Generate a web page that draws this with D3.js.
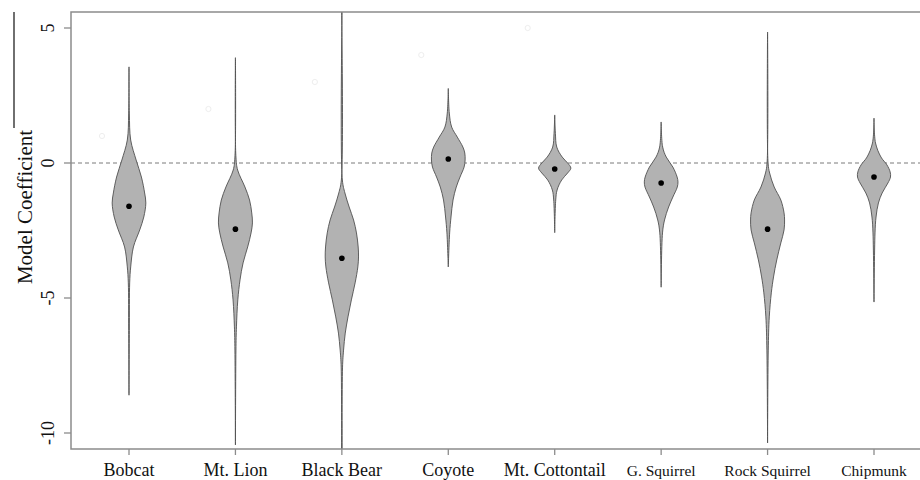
<!DOCTYPE html>
<html>
<head>
<meta charset="utf-8">
<script src="https://cdn.jsdelivr.net/npm/d3@7"></script>
<style>
  body { margin: 0; background: #fff; }
  svg { display: block; font-family: "Liberation Serif", "DejaVu Serif", serif; }
</style>
</head>
<body>
<div id="chart"></div>
<script>
// species on the x axis
const species = ['Bobcat', 'Mt. Lion', 'Black Bear', 'Coyote', 'Mt. Cottontail', 'G. Squirrel', 'Rock Squirrel', 'Chipmunk']
const smallLabels = ['G. Squirrel', 'Rock Squirrel', 'Chipmunk']

// median coefficient of each species (the black dots)
const medians = [-1.6, -2.45, -3.53, 0.15, -0.22, -0.74, -2.45, -0.52]

// violin outlines: [coefficient, relative density]
const bobcat = [[3.56, 0], [1.85, 0.02], [0.85, 0.1], [0.11, 0.42], [-0.52, 0.73], [-1.11, 0.92], [-1.48, 0.99], [-2.0, 0.87], [-2.48, 0.63], [-3.11, 0.26], [-3.85, 0.1], [-4.44, 0.04], [-6.2, 0.02], [-8.6, 0]]
const mtLion = [[3.9, 0], [0.22, 0.03], [-0.26, 0.13], [-0.89, 0.56], [-1.37, 0.83], [-1.85, 0.96], [-2.22, 1.0], [-2.59, 0.92], [-3.11, 0.72], [-3.7, 0.45], [-4.33, 0.27], [-5.07, 0.14], [-6.07, 0.06], [-6.93, 0.03], [-10.44, 0]]
const blackBear = [[6.0, 0.02], [-0.63, 0.03], [-1.11, 0.18], [-1.63, 0.43], [-2.11, 0.69], [-2.59, 0.86], [-3.11, 0.96], [-3.48, 0.98], [-3.85, 0.94], [-4.44, 0.78], [-5.07, 0.56], [-5.7, 0.36], [-6.3, 0.2], [-6.93, 0.1], [-7.56, 0.04], [-11.0, 0.02]]
const coyote = [[2.76, 0], [1.85, 0.06], [1.33, 0.2], [0.96, 0.53], [0.59, 0.86], [0.37, 0.97], [0.11, 0.99], [-0.15, 0.93], [-0.52, 0.69], [-0.89, 0.47], [-1.37, 0.28], [-2.0, 0.16], [-2.59, 0.08], [-3.85, 0]]
const cottontail = [[1.78, 0], [1.1, 0.04], [0.59, 0.12], [0.22, 0.44], [0, 0.76], [-0.19, 0.95], [-0.37, 0.76], [-0.63, 0.41], [-1.0, 0.14], [-1.37, 0.06], [-2.58, 0]]
const gSquirrel = [[1.52, 0], [0.59, 0.09], [0.22, 0.3], [-0.15, 0.69], [-0.52, 0.94], [-0.7, 0.99], [-0.89, 0.95], [-1.26, 0.69], [-1.63, 0.44], [-2.11, 0.2], [-2.59, 0.08], [-4.6, 0]]
const rockSquirrel = [[4.85, 0], [0, 0.03], [-0.37, 0.12], [-0.89, 0.39], [-1.37, 0.78], [-1.85, 0.97], [-2.11, 1.0], [-2.48, 0.97], [-2.96, 0.78], [-3.59, 0.54], [-4.22, 0.35], [-4.81, 0.22], [-5.7, 0.1], [-6.93, 0.04], [-10.37, 0]]
const chipmunk = [[1.66, 0], [0.74, 0.09], [0.22, 0.41], [-0.07, 0.76], [-0.33, 0.95], [-0.52, 0.97], [-0.74, 0.82], [-1.11, 0.48], [-1.48, 0.26], [-2.0, 0.12], [-2.59, 0.06], [-5.15, 0]]

const violins = [bobcat, mtLion, blackBear, coyote, cottontail, gSquirrel, rockSquirrel, chipmunk]

// y ticks and the faint leftover markers in the picture
const yTicks = [5, 0, -5, -10]
const ghostVals = [1, 2, 3, 4, 5]

const W = 920, H = 480
const plot = { left: 71, right: 920, top: 12, bottom: 449 }

const svg = d3.select('#chart')
  .append('svg')
    .attr('width', W)
    .attr('height', H)

const y = d3.scaleLinear()
  .domain([-10, 5])
  .range([433, 28])

const x = d3.scalePoint()
  .domain(species)
  .range([129, 874])

const w = d3.scaleLinear()
  .domain([0, 1])
  .range([0, 17])

svg.append('clipPath').attr('id', 'plotclip')
  .append('rect')
    .attr('x', plot.left)
    .attr('y', plot.top)
    .attr('width', plot.right - plot.left)
    .attr('height', plot.bottom - plot.top)

// stray dark line at far left
svg.append('line')
  .attr('x1', 14).attr('x2', 14)
  .attr('y1', plot.top).attr('y2', 128)
  .style('stroke', '#222')
  .style('stroke-width', 1.3)

// faint rings
svg.append('g')
  .selectAll('circle')
  .data(ghostVals)
  .enter()
  .append('circle')
    .attr('cx', (d, i) => x(species[i]) - 27)
    .attr('cy', d => y(d))
    .attr('r', 2.6)
    .style('fill', 'none')
    .style('stroke', '#eeeeee')
    .style('stroke-width', 1)

// zero line
svg.append('line')
  .attr('x1', plot.left).attr('x2', plot.right)
  .attr('y1', y(0)).attr('y2', y(0))
  .style('stroke', '#7a7a7a')
  .style('stroke-width', 1)
  .style('stroke-dasharray', '4,3')

const area = d3.area()
  .curve(d3.curveCatmullRom)
  .y(d => y(d[0]))

const violinG = svg.append('g')
  .attr('clip-path', 'url(#plotclip)')

violinG.selectAll('path')
  .data(violins)
  .enter()
  .append('path')
    .attr('d', (d, i) => {
      const cx = x(species[i])
      return area.x0(p => cx - w(p[1])).x1(p => cx + w(p[1]))(d)
    })
    .style('fill', '#b2b2b2')
    .style('stroke', '#505050')
    .style('stroke-width', 0.9)

violinG.selectAll('circle')
  .data(medians)
  .enter()
  .append('circle')
    .attr('cx', (d, i) => x(species[i]))
    .attr('cy', d => y(d))
    .attr('r', 2.8)
    .style('fill', '#000')

// frame
svg.append('path')
  .attr('d', `M${plot.right},${plot.top}H${plot.left}V${plot.bottom}H${plot.right}`)
  .style('stroke', '#8c8c8c')
  .style('stroke-width', 1.5)
  .style('fill', 'none')

// y axis ticks
const yAxisG = svg.append('g')
yAxisG.selectAll('line')
  .data(yTicks)
  .enter()
  .append('line')
    .attr('x1', plot.left - 7).attr('x2', plot.left)
    .attr('y1', d => y(d)).attr('y2', d => y(d))
    .style('stroke', '#8c8c8c')
    .style('stroke-width', 1.3)
yAxisG.selectAll('text')
  .data(yTicks)
  .enter()
  .append('text')
    .attr('transform', d => `translate(54, ${y(d)}) rotate(-90)`)
    .attr('text-anchor', 'middle')
    .style('font-size', '18px')
    .style('fill', '#111')
    .text(d => d)

svg.append('text')
  .attr('transform', `translate(32, ${207}) rotate(-90)`)
  .attr('text-anchor', 'middle')
  .style('font-size', '21px')
  .style('fill', '#111')
  .text('Model Coefficient')

// x axis ticks
const xAxisG = svg.append('g')
xAxisG.selectAll('line')
  .data(species)
  .enter()
  .append('line')
    .attr('x1', d => x(d)).attr('x2', d => x(d))
    .attr('y1', plot.bottom).attr('y2', plot.bottom + 6)
    .style('stroke', '#8c8c8c')
    .style('stroke-width', 1.3)
xAxisG.selectAll('text')
  .data(species)
  .enter()
  .append('text')
    .attr('x', d => x(d))
    .attr('y', 476)
    .attr('text-anchor', 'middle')
    .style('font-size', d => smallLabels.includes(d) ? '15.5px' : '18px')
    .style('fill', '#111')
    .text(d => d)
</script>
</body>
</html>
